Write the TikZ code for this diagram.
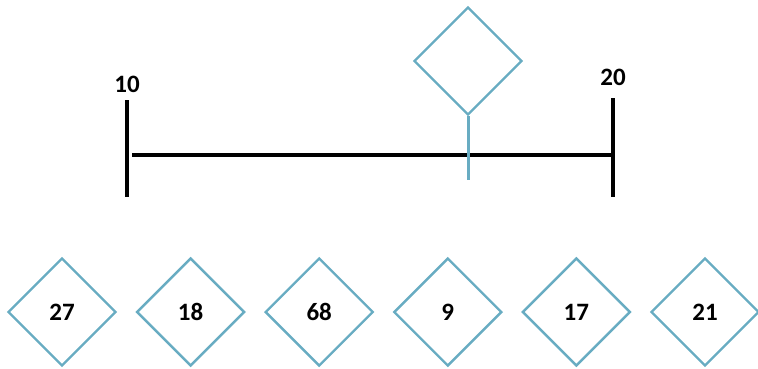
\documentclass[tikz,border=0pt]{standalone}
\usepackage{fontspec}
\setmainfont{Carlito}
\usetikzlibrary{shapes.geometric,positioning}
\definecolor{keyblue}{RGB}{104,172,194}

\begin{document}
\begin{tikzpicture}[
    x=1pt, y=-1pt,
    node distance=18.2pt,
    key/.style={diamond, draw=keyblue, line width=2.4pt, minimum size=108pt, inner sep=0pt, font=\bfseries\fontsize{25}{25}\selectfont},
    tickline/.style={line width=3.8pt},
    ticktext/.style={font=\bfseries\fontsize{25}{25}\selectfont},
]
    \useasboundingbox (0,0) rectangle (758,368);

    % number line with its two ends
    \coordinate (lo top) at (127,100);
    \coordinate (lo bot) at (127,197);
    \coordinate (hi top) at (613,98);
    \coordinate (hi bot) at (613,197);
    \coordinate (line start) at (132,155);
    \coordinate (line end) at (613,155);
    \node[ticktext] (lo) at (127,84) {10};
    \node[ticktext] (hi) at (613,77) {20};
    \draw[tickline] (lo top) -- (lo bot);
    \draw[tickline] (hi top) -- (hi bot);
    \draw[tickline] (line start) -- (line end);

    % key being placed
    \node[key] (probe) at (468,61) {};
    \coordinate (probe end) at (468,180);
    \draw[keyblue, line width=3pt] (probe.south) -- (probe end);

    % keys waiting below
    \node[key] (k1) at (62,312) {27};
    \node[key, right=of k1] (k2) {18};
    \node[key, right=of k2] (k3) {68};
    \node[key, right=of k3] (k4) {9};
    \node[key, right=of k4] (k5) {17};
    \node[key, right=of k5] (k6) {21};
\end{tikzpicture}
\end{document}
